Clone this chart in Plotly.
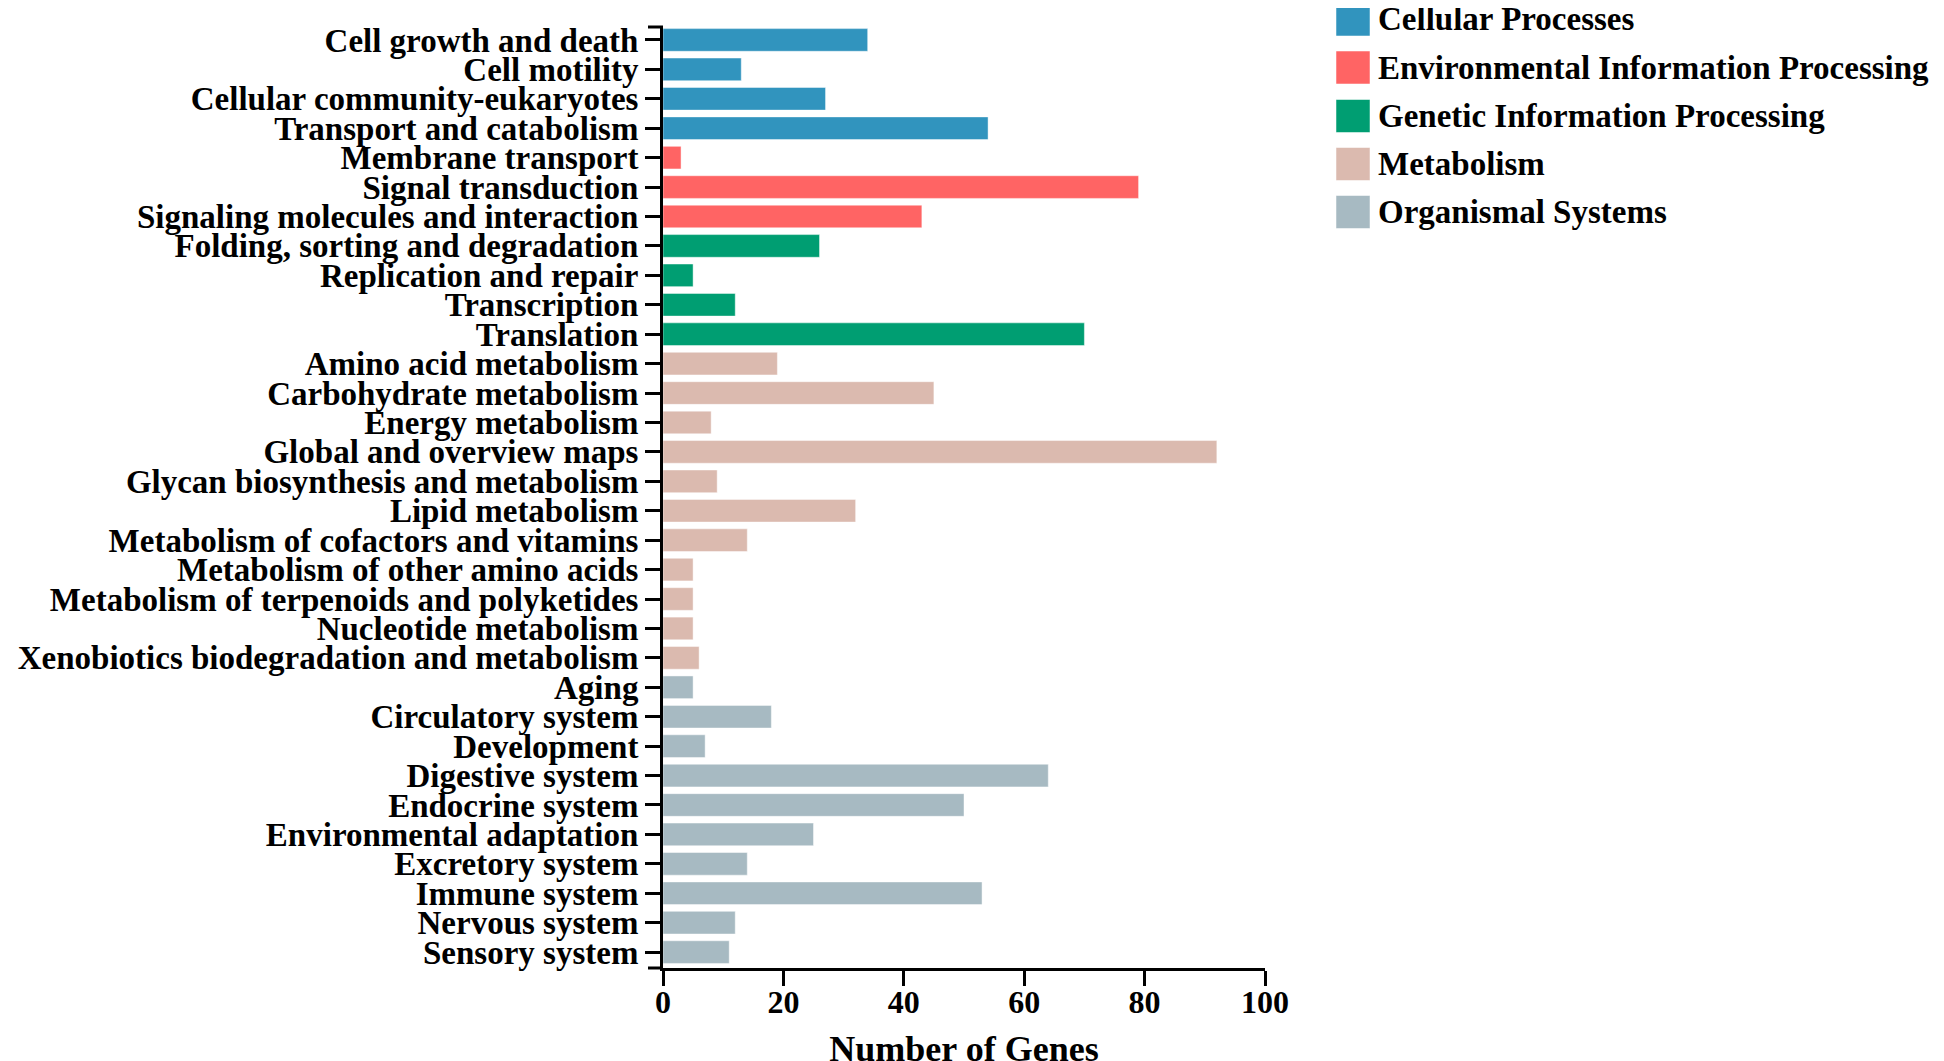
import plotly.graph_objects as go

categories = [
    "Cell growth and death", "Cell motility", "Cellular community-eukaryotes",
    "Transport and catabolism", "Membrane transport", "Signal transduction",
    "Signaling molecules and interaction", "Folding, sorting and degradation",
    "Replication and repair", "Transcription", "Translation",
    "Amino acid metabolism", "Carbohydrate metabolism", "Energy metabolism",
    "Global and overview maps", "Glycan biosynthesis and metabolism",
    "Lipid metabolism", "Metabolism of cofactors and vitamins",
    "Metabolism of other amino acids", "Metabolism of terpenoids and polyketides",
    "Nucleotide metabolism", "Xenobiotics biodegradation and metabolism",
    "Aging", "Circulatory system", "Development", "Digestive system",
    "Endocrine system", "Environmental adaptation", "Excretory system",
    "Immune system", "Nervous system", "Sensory system",
]
values = [34, 13, 27, 54, 3, 79, 43, 26, 5, 12, 70,
          19, 45, 8, 92, 9, 32, 14, 5, 5, 5, 6,
          5, 18, 7, 64, 50, 25, 14, 53, 12, 11]
group_index = [0, 0, 0, 0, 1, 1, 1, 2, 2, 2, 2,
               3, 3, 3, 3, 3, 3, 3, 3, 3, 3, 3,
               4, 4, 4, 4, 4, 4, 4, 4, 4, 4]
group_names = ["Cellular Processes", "Environmental Information Processing",
               "Genetic Information Processing", "Metabolism", "Organismal Systems"]
group_colors = ["#3194BE", "#FF6464", "#009E72", "#DBBAAF", "#A7BAC2"]
x_ticks = [0, 20, 40, 60, 80, 100]

FONT = "Liberation Serif"
OFF = 8  # default page body margin
W, H = 1944, 1061
L, T = 663 - OFF, 27 - OFF
R = W - (1265 - OFF)
B = H - (968 - OFF)
PW, PH = W - L - R, H - T - B

fig = go.Figure()
for gi, (gname, gcol) in enumerate(zip(group_names, group_colors)):
    ys = [c for c, g in zip(categories, group_index) if g == gi]
    xs = [v for v, g in zip(values, group_index) if g == gi]
    fig.add_trace(go.Bar(
        x=xs, y=ys, orientation="h", name=gname, width=0.77,
        marker=dict(color=gcol, line=dict(color="rgba(255,255,255,0.45)", width=1)),
        showlegend=False,
    ))

fig.update_layout(
    width=W, height=H, barmode="overlay",
    margin=dict(l=L, r=R, t=T, b=B, autoexpand=False),
    paper_bgcolor="white", plot_bgcolor="white",
    font=dict(family=FONT, color="black"),
)
fig.update_yaxes(
    type="category", categoryorder="array", categoryarray=categories,
    tickmode="array", tickvals=categories, ticktext=categories,
    range=[len(categories) - 0.46, -0.44], autorange=False,
    showline=True, linecolor="black", linewidth=3,
    ticks="outside", ticklen=15, tickwidth=3, tickcolor="black",
    tickfont=dict(family=FONT, size=33, color="black", weight="bold"),
    ticklabelstandoff=0, showgrid=False, zeroline=False,
)
fig.update_xaxes(
    range=[0, 100], autorange=False, tickmode="array", tickvals=x_ticks,
    showline=True, linecolor="black", linewidth=3,
    ticks="outside", ticklen=15, tickwidth=3, tickcolor="black",
    tickfont=dict(family=FONT, size=32, color="black", weight="bold"),
    ticklabelstandoff=-11,
    showgrid=False, zeroline=False,
    title=dict(text="Number of Genes", font=dict(family=FONT, size=36, color="black", weight="bold"),
               standoff=29),
)

# outer ticks at ends of the y-axis domain
for yy in (0, 1):
    fig.add_shape(type="line", xref="paper", yref="paper",
                  x0=-15 / PW, x1=0, y0=yy, y1=yy,
                  line=dict(color="black", width=3))

# custom legend with large square swatches (positions in screen pixels)
def px_x(px):
    return (px - OFF - L) / PW

def px_y(py):
    return (H - B - (py - OFF)) / PH

leg_rows = [19.5, 67.5, 116, 164, 212]
for gname, gcol, cy in zip(group_names, group_colors, leg_rows):
    fig.add_shape(type="rect", xref="paper", yref="paper",
                  x0=px_x(1336), x1=px_x(1370), y0=px_y(cy + 16.5), y1=px_y(cy - 16.5),
                  fillcolor=gcol, line=dict(color="rgba(255,255,255,0.5)", width=1))
    fig.add_annotation(xref="paper", yref="paper", x=px_x(1376), y=px_y(cy),
                       xanchor="left", yanchor="middle", showarrow=False,
                       text=gname, font=dict(family=FONT, size=33, color="black", weight="bold"))

fig.write_html("out.html")
